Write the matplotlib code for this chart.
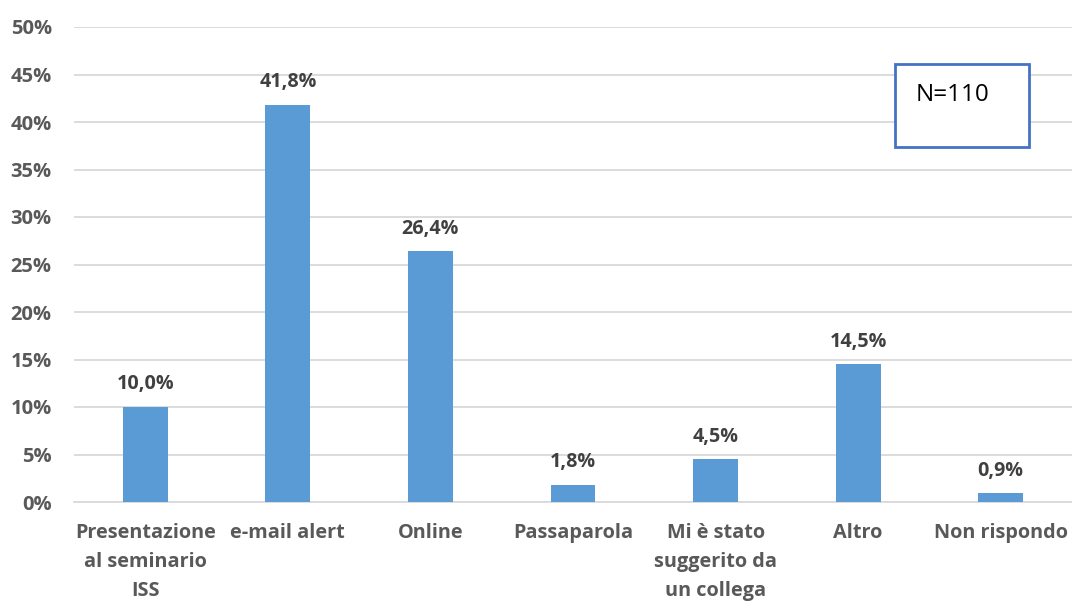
import matplotlib
matplotlib.use("Agg")
import matplotlib.pyplot as plt
from matplotlib.patches import Rectangle

categories = ["Presentazione\nal seminario\nISS", "e-mail alert", "Online", "Passaparola",
              "Mi è stato\nsuggerito da\nun collega", "Altro", "Non rispondo"]
values = [10.0, 41.8, 26.4, 1.8, 4.5, 14.5, 0.9]
value_labels = ["10,0%", "41,8%", "26,4%", "1,8%", "4,5%", "14,5%", "0,9%"]
yticks = [0, 5, 10, 15, 20, 25, 30, 35, 40, 45, 50]
ytick_labels = ["0%", "5%", "10%", "15%", "20%", "25%", "30%", "35%", "40%", "45%", "50%"]

plt.rcParams['font.family'] = ['Open Sans', 'DejaVu Sans']

fig = plt.figure(figsize=(10.72, 6.01), dpi=100)
ax = fig.add_axes([74/1072, 1 - 502/601, 1 - 74/1072, (502 - 27)/601])

x = list(range(len(categories)))
ax.bar(x, values, width=0.315, color="#5B9BD5", zorder=3)
for xi, v, lab in zip(x, values, value_labels):
    ax.annotate(lab, (xi, v), xytext=(0, 9), textcoords="offset points",
                ha="center", va="bottom", fontsize=14.2, fontweight="bold", color="#404040")

ax.set_xlim(-0.5, len(categories) - 0.5)
ax.set_ylim(0, 50)
ax.set_yticks(yticks)
ax.set_yticklabels(ytick_labels, fontsize=14.5, fontweight="bold", color="#595959")
ax.set_xticks(x)
ax.set_xticklabels(categories, fontsize=14.3, fontweight="bold", color="#595959", linespacing=1.62, va="top")
ax.tick_params(axis="both", length=0)
ax.tick_params(axis="x", pad=15)
ax.tick_params(axis="y", pad=16)
ax.grid(axis="y", color="#D9D9D9", linewidth=1.3, zorder=0)
for s in ["top", "right", "left"]:
    ax.spines[s].set_visible(False)
ax.spines["bottom"].set_color("#D9D9D9")
ax.spines["bottom"].set_linewidth(1.3)

fig.patches.append(Rectangle((895/1072, 1 - 147/601), 134/1072, 83/601, transform=fig.transFigure,
                             facecolor="white", edgecolor="#4472C4", linewidth=2, zorder=5))
fig.text(916/1072, 1 - 95/601, "N=110", fontsize=17.5, color="black", ha="left", va="center",
         family=["Open Sans", "DejaVu Sans"], zorder=6)

fig.savefig("out.png", dpi=100)
